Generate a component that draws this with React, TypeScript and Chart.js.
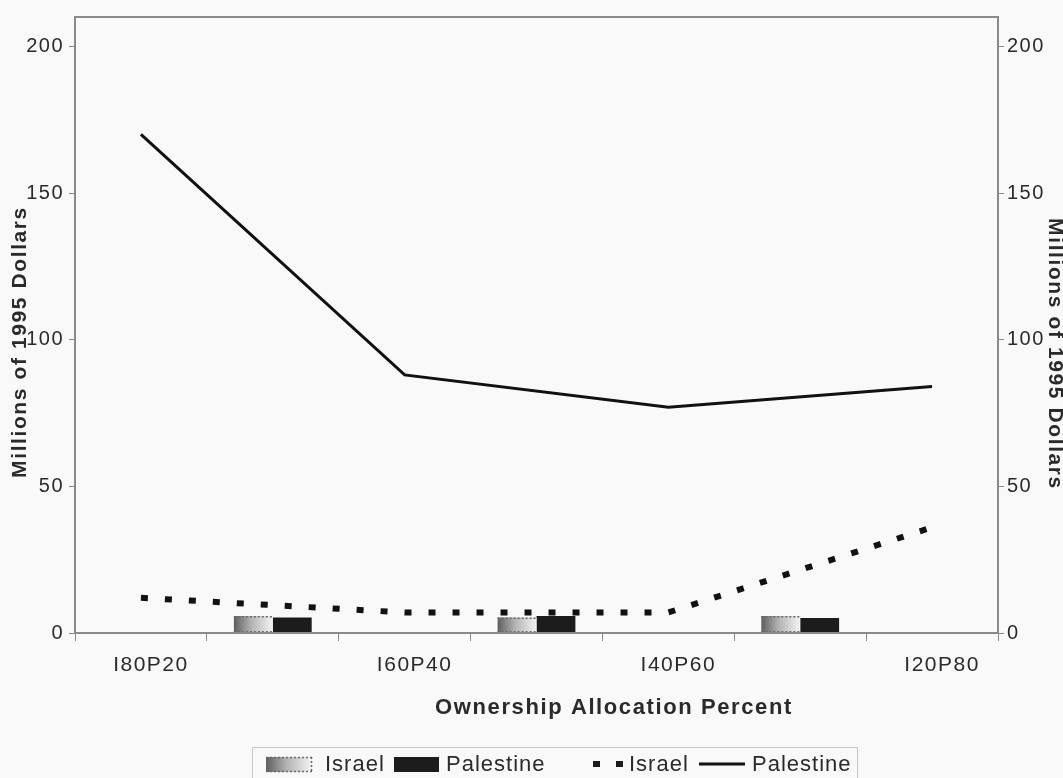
import React, { useEffect, useRef } from "react";
import { Chart, registerables } from "chart.js";

Chart.register(...registerables);

const categories = ["I80P20", "", "I60P40", "", "I40P60", "", "I20P80"];
const israelBar = [null, 5.8, null, 5.3, null, 5.8, null];
const palestineBar = [null, 5.3, null, 5.8, null, 5.1, null];
const israelLine = [12, null, 7, null, 7, null, 36];
const palestineLine = [170, null, 88, null, 77, null, 84];
const yMin = 0;
const yMax = 210;
const yStep = 50;
const xTitle = "Ownership Allocation Percent";
const yTitle = "Millions of 1995 Dollars";
const legendLabels = ["Israel", "Palestine", "Israel", "Palestine"];

const FONT = "'Liberation Sans', Arial, sans-serif";
const BG = "#f9f9f9";
const TEXT = "#2a2a2a";
const FRAME = "#8a8a8a";
const CAT_PCT = 0.59;

function israelGradient(ctx: CanvasRenderingContext2D, left: number, right: number) {
  const g = ctx.createLinearGradient(left, 0, right, 0);
  g.addColorStop(0, "#5e5e5e");
  g.addColorStop(0.45, "#b4b4b4");
  g.addColorStop(1, "#f4f4f4");
  return g;
}

const israelFill = (c: any) => {
  const chart = c.chart;
  const xs = chart.scales && chart.scales.x;
  if (!xs || c.dataIndex == null || !xs.width) return "#a0a0a0";
  const cw = xs.width / categories.length;
  const center = xs.getPixelForValue(c.dataIndex);
  const left = center - (cw * CAT_PCT) / 2;
  return israelGradient(chart.ctx, left, center);
};

const spacingPlugin = {
  id: "spacing",
  beforeUpdate(chart: any) {
    chart.ctx.letterSpacing = "1.5px";
  },
  beforeDraw(chart: any) {
    const ctx = chart.ctx;
    ctx.letterSpacing = "1.5px";
    ctx.save();
    ctx.fillStyle = BG;
    ctx.fillRect(0, 0, chart.width, chart.height);
    ctx.restore();
  },
};

const decorPlugin = {
  id: "decor",
  afterDatasetsDraw(chart: any) {
    const ctx = chart.ctx;
    // dotted edges on Israel bars
    const meta = chart.getDatasetMeta(2);
    ctx.save();
    ctx.strokeStyle = "#6a6a6a";
    ctx.lineWidth = 1.5;
    ctx.setLineDash([2, 2]);
    meta.data.forEach((el: any, i: number) => {
      if (israelBar[i] == null) return;
      const p = el.getProps(["x", "y", "width", "base"], true);
      const l = p.x - p.width / 2;
      const r = p.x + p.width / 2;
      ctx.beginPath();
      ctx.moveTo(l, p.y + 0.75);
      ctx.lineTo(r, p.y + 0.75);
      ctx.moveTo(l, p.base - 0.75);
      ctx.lineTo(r, p.base - 0.75);
      ctx.stroke();
    });
    ctx.restore();
  },
  afterDraw(chart: any) {
    const ctx = chart.ctx;
    const a = chart.chartArea;
    ctx.save();
    // frame
    ctx.strokeStyle = FRAME;
    ctx.lineWidth = 2;
    ctx.setLineDash([]);
    ctx.strokeRect(a.left, a.top, a.right - a.left, a.bottom - a.top);

    ctx.fillStyle = TEXT;
    ctx.letterSpacing = "1.6px";
    // x title
    ctx.font = `bold 22px ${FONT}`;
    ctx.textAlign = "center";
    ctx.textBaseline = "middle";
    ctx.fillText(xTitle, 614, 708);
    // left title
    ctx.font = `bold 21px ${FONT}`;
    ctx.save();
    ctx.translate(20, 342);
    ctx.rotate(-Math.PI / 2);
    ctx.fillText(yTitle, 0, 0);
    ctx.restore();
    // right title
    ctx.save();
    ctx.translate(1055, 354);
    ctx.rotate(Math.PI / 2);
    ctx.fillText(yTitle, 0, 0);
    ctx.restore();

    // legend
    ctx.letterSpacing = "1px";
    const cy = 764;
    ctx.strokeStyle = "#c8c8c8";
    ctx.lineWidth = 1;
    ctx.strokeRect(252.5, 747.5, 605, 40);

    // Israel bar swatch
    ctx.fillStyle = israelGradient(ctx, 266, 312);
    ctx.fillRect(266, 757, 46, 15);
    ctx.strokeStyle = "#6a6a6a";
    ctx.lineWidth = 1.5;
    ctx.setLineDash([2, 2]);
    ctx.beginPath();
    ctx.moveTo(266, 757.5);
    ctx.lineTo(312, 757.5);
    ctx.moveTo(266, 771.5);
    ctx.lineTo(312, 771.5);
    ctx.moveTo(311.5, 757);
    ctx.lineTo(311.5, 772);
    ctx.stroke();
    ctx.setLineDash([]);

    // Palestine bar swatch
    ctx.fillStyle = "#1c1c1c";
    ctx.fillRect(394, 757, 45, 15);

    // dotted line swatch
    ctx.fillRect(593, cy - 3, 7, 6);
    ctx.fillRect(616, cy - 3, 7, 6);

    // solid line swatch
    ctx.strokeStyle = "#111";
    ctx.lineWidth = 3;
    ctx.beginPath();
    ctx.moveTo(699, cy);
    ctx.lineTo(745, cy);
    ctx.stroke();

    ctx.fillStyle = TEXT;
    ctx.font = `22px ${FONT}`;
    ctx.textAlign = "left";
    ctx.textBaseline = "middle";
    ctx.fillText(legendLabels[0], 325, cy + 1);
    ctx.fillText(legendLabels[1], 446, cy + 1);
    ctx.fillText(legendLabels[2], 629, cy + 1);
    ctx.fillText(legendLabels[3], 752, cy + 1);
    ctx.restore();
  },
};

export default function App() {
  const ref = useRef<HTMLCanvasElement | null>(null);

  useEffect(() => {
    const canvas = ref.current;
    if (!canvas) return;
    const tickFont = { family: FONT, size: 21 };
    const yTickFont = { family: FONT, size: 20 };
    const yScale = (position: "left" | "right", width: number, padding: number) => ({
      type: "linear" as const,
      position,
      min: yMin,
      max: yMax,
      ticks: {
        stepSize: yStep,
        includeBounds: false,
        font: yTickFont,
        color: TEXT,
        padding,
      },
      grid: {
        drawOnChartArea: false,
        drawTicks: true,
        tickLength: 6,
        color: FRAME,
        lineWidth: 1,
      },
      border: { display: true, color: FRAME, width: 2 },
      afterFit: (s: any) => {
        s.width = width;
      },
    });

    const chart = new Chart(canvas, {
      type: "bar",
      data: {
        labels: categories,
        datasets: [
          {
            type: "line",
            label: "Palestine",
            data: palestineLine,
            borderColor: "#111",
            borderWidth: 3,
            pointRadius: 0,
            spanGaps: true,
            yAxisID: "y",
          },
          {
            type: "line",
            label: "Israel",
            data: israelLine,
            borderColor: "#111",
            borderWidth: 6,
            borderDash: [7, 17],
            borderCapStyle: "butt",
            pointRadius: 0,
            spanGaps: true,
            yAxisID: "y",
          },
          {
            type: "bar",
            label: "Israel",
            data: israelBar,
            backgroundColor: israelFill,
            borderWidth: 0,
            yAxisID: "y1",
          },
          {
            type: "bar",
            label: "Palestine",
            data: palestineBar,
            backgroundColor: "#1c1c1c",
            borderWidth: 0,
            yAxisID: "y1",
          },
        ] as any,
      },
      options: {
        responsive: false,
        animation: false,
        devicePixelRatio: 1,
        layout: { padding: { top: 16, left: 0, right: 0, bottom: 0 } },
        datasets: { bar: { categoryPercentage: CAT_PCT, barPercentage: 1 } },
        scales: {
          x: {
            type: "category",
            offset: true,
            grid: {
              offset: true,
              drawOnChartArea: false,
              drawTicks: true,
              tickLength: 8,
              color: FRAME,
              lineWidth: 1,
            },
            border: { display: true, color: FRAME, width: 2 },
            ticks: {
              font: tickFont,
              color: TEXT,
              padding: 12,
              labelOffset: 10,
              autoSkip: false,
              maxRotation: 0,
              minRotation: 0,
            },
            afterFit: (s: any) => {
              s.height = 145;
            },
          },
          y: yScale("left", 75, 5),
          y1: yScale("right", 65, 3),
        },
        plugins: {
          legend: { display: false },
          tooltip: { enabled: false },
        },
      } as any,
      plugins: [spacingPlugin, decorPlugin],
    });
    return () => chart.destroy();
  }, []);

  return (
    <div style={{ position: "absolute", left: 0, top: 0, width: 1063, height: 778, background: BG }}>
      <canvas ref={ref} width={1063} height={778} style={{ width: 1063, height: 778, display: "block" }} />
    </div>
  );
}
